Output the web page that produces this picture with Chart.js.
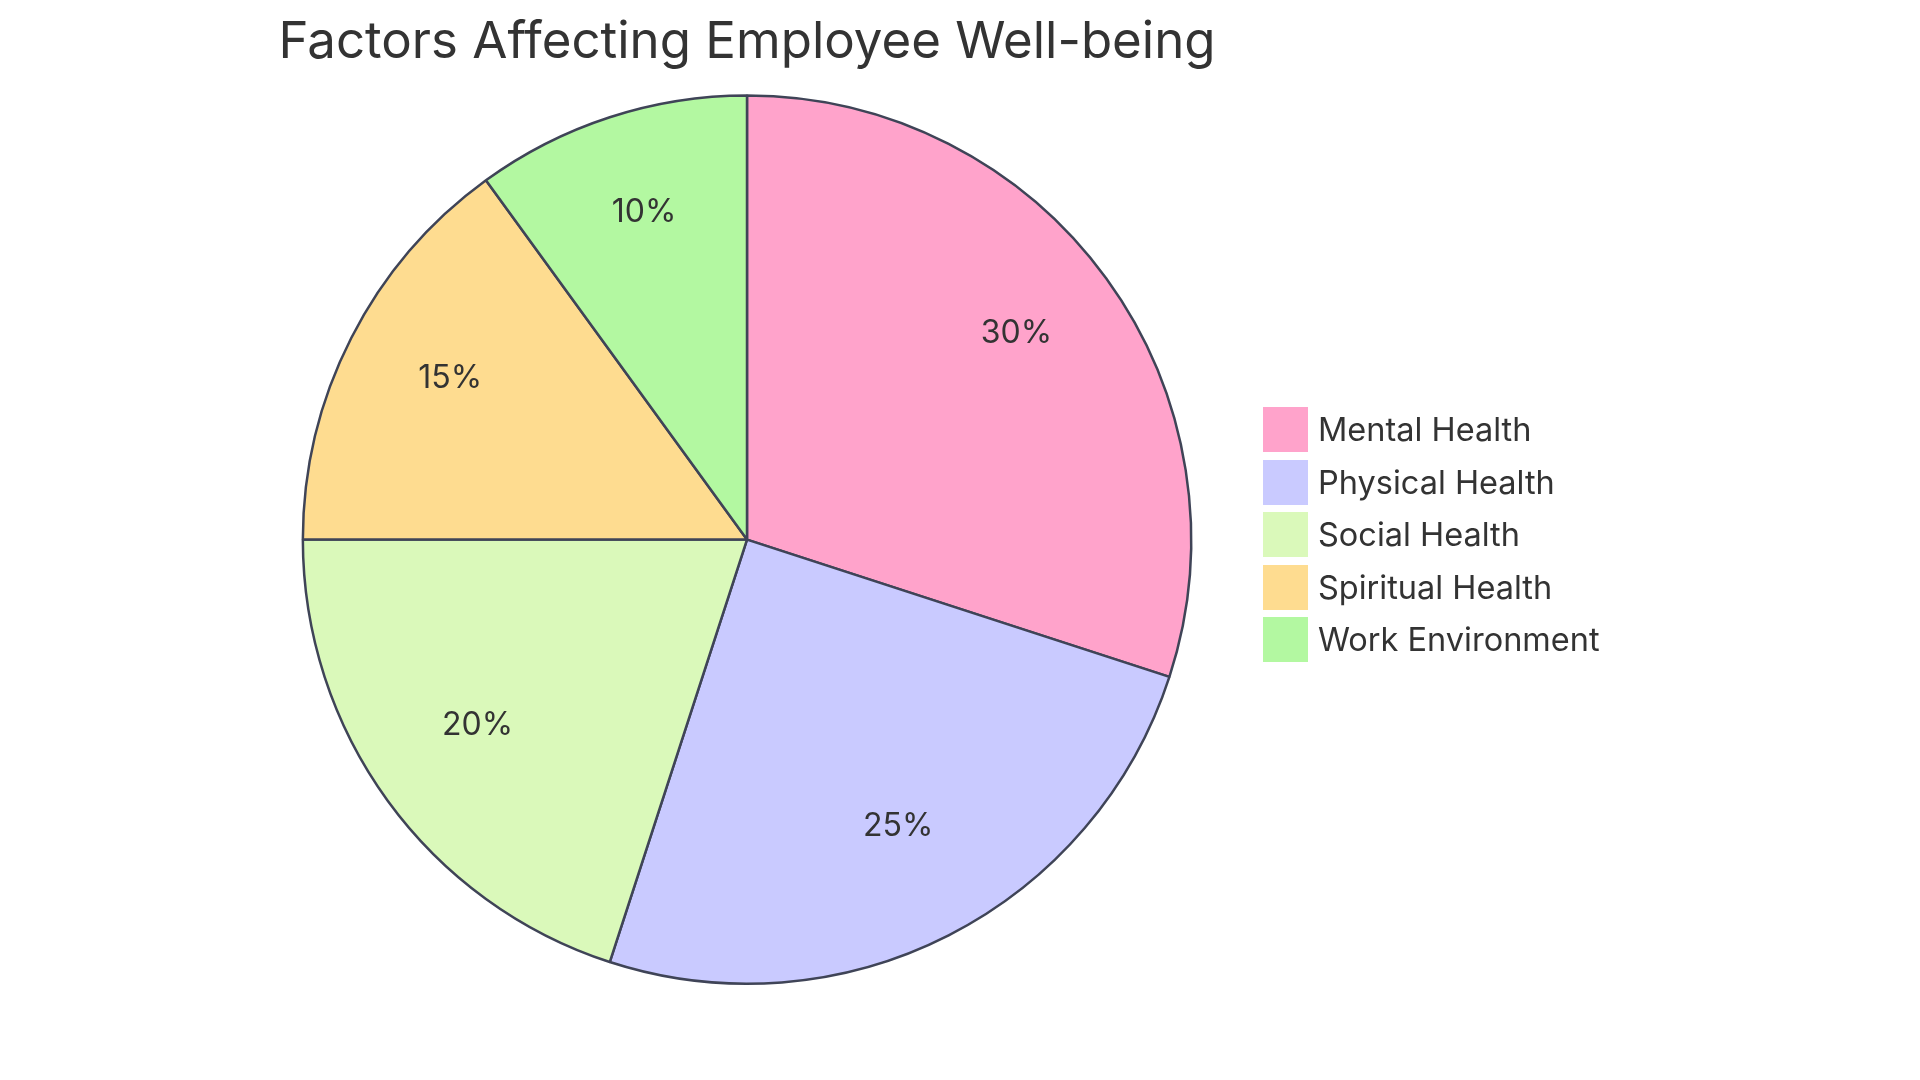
<!DOCTYPE html>
<html lang="en">
<head>
  <meta charset="UTF-8" />
  <title>Factors Affecting Employee Well-being</title>
  <script src="https://cdn.jsdelivr.net/npm/chart.js"></script>
  <style>
    html, body { margin: 0; padding: 0; background: #fff; }
    body { width: 1920px; height: 1080px; position: relative; overflow: hidden; font-family: Inter, "Noto Sans", sans-serif; }
    #wrap { position: absolute; left: 0; top: 0; width: 1494px; height: 1080px; }
    #legend { position: absolute; left: 1263px; top: 407px; }
    .row { display: flex; align-items: center; height: 45px; margin-bottom: 7.5px; }
    .box { width: 45px; height: 45px; margin-right: 10px; }
    .lbl { font-size: 32.5px; color: #333; white-space: nowrap; }
  </style>
</head>
<body>
  <div id="wrap"><canvas id="pie"></canvas></div>
  <div id="legend"></div>

  <script>
    const categories = ["Mental Health", "Physical Health", "Social Health", "Spiritual Health", "Work Environment"];
    const shares = [30, 25, 20, 15, 10];
    const sliceColors = ["#FFA3CB", "#C9CAFF", "#DAF9BA", "#FEDC90", "#B3F8A1"];

    // legend as plain html, same order as slices
    const legend = document.getElementById("legend");
    categories.forEach((name, i) => {
      const row = document.createElement("div");
      row.className = "row";
      row.innerHTML = `<div class="box" style="background:${sliceColors[i]}"></div><span class="lbl">${name}</span>`;
      legend.appendChild(row);
    });

    // percent labels inside each slice
    const sliceLabels = {
      id: "sliceLabels",
      afterDatasetsDraw(chart) {
        const ctx = chart.ctx;
        const total = shares.reduce((a, b) => a + b, 0);
        chart.getDatasetMeta(0).data.forEach((arc, i) => {
          const mid = (arc.startAngle + arc.endAngle) / 2;
          const r = arc.outerRadius * 0.75;
          ctx.save();
          ctx.font = "32px Inter, 'Noto Sans', sans-serif";
          ctx.fillStyle = "#333";
          ctx.textAlign = "center";
          ctx.textBaseline = "middle";
          ctx.fillText(Math.round(shares[i] / total * 100) + "%", arc.x + Math.cos(mid) * r, arc.y + Math.sin(mid) * r - 10);
          ctx.restore();
        });
      }
    };

    new Chart(document.getElementById("pie"), {
      type: "pie",
      data: {
        labels: categories,
        datasets: [{
          data: shares,
          backgroundColor: sliceColors,
          borderColor: "#3F4457",
          borderWidth: 2.5
        }]
      },
      options: {
        responsive: true,
        maintainAspectRatio: false,
        animation: false,
        layout: { padding: { top: 0, bottom: 95 } },
        plugins: {
          legend: { display: false },
          tooltip: { enabled: false },
          title: {
            display: true,
            text: "Factors Affecting Employee Well-being",
            color: "#333",
            font: { family: "Inter, 'Noto Sans', sans-serif", size: 51, weight: "normal" },
            padding: { top: 12, bottom: 21 }
          }
        }
      },
      plugins: [sliceLabels]
    });
  </script>
</body>
</html>
